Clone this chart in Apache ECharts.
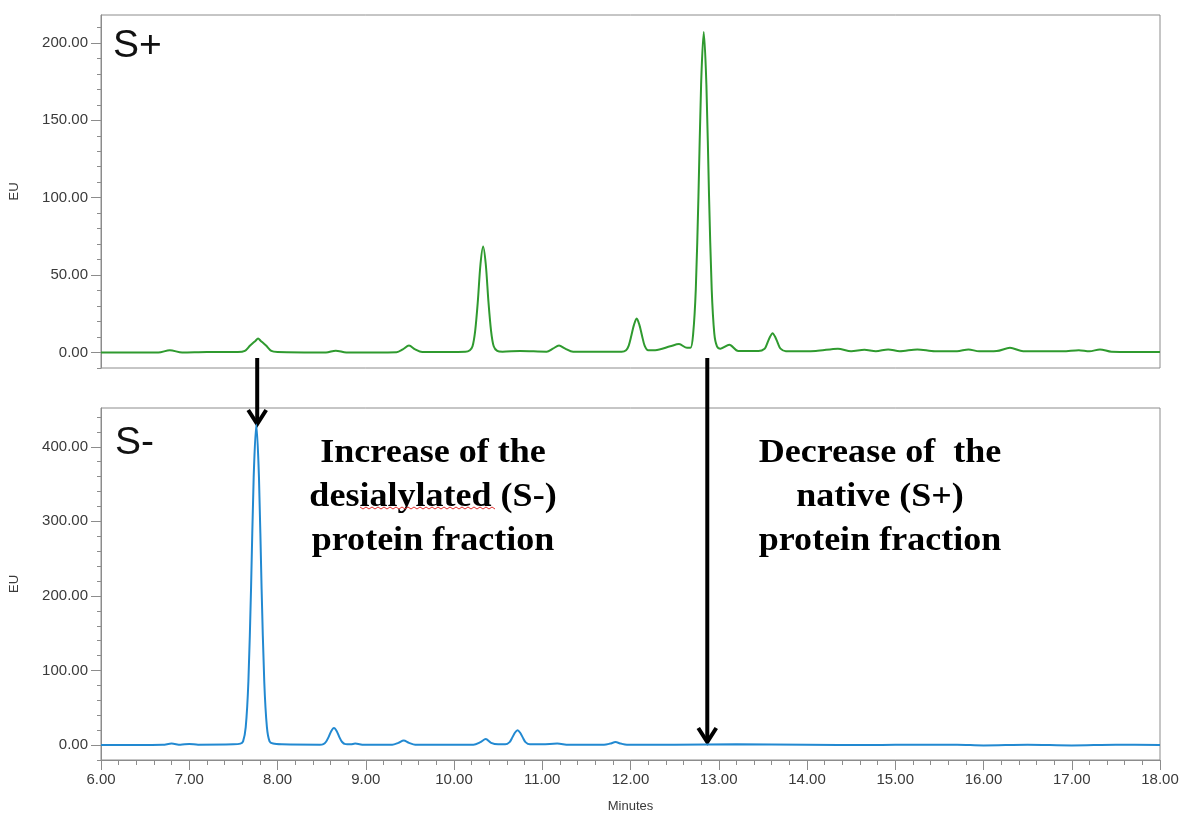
<!DOCTYPE html>
<html>
<head>
<meta charset="utf-8">
<script src="https://cdn.jsdelivr.net/npm/echarts@6/dist/echarts.min.js"></script>
<style>
html,body{margin:0;padding:0;background:#fff;}
#chart{width:1184px;height:816px;}
</style>
</head>
<body>
<div id="chart"></div>
<script>
// S+ trace (native), minutes / EU
var plusTime = [6.00,6.65,6.78,6.92,7.20,7.55,7.63,7.69,7.75,7.78,7.81,7.87,7.93,8.00,8.55,8.66,8.78,
    9.35,9.42,9.49,9.56,9.64,
    10.13,10.18,10.21,10.24,10.27,10.30,10.33,10.36,10.39,10.42,10.45,10.49,10.55,10.75,
    11.05,11.12,11.19,11.26,11.35,
    11.90,11.95,11.98,12.01,12.04,12.07,12.10,12.13,12.16,12.20,12.28,12.45,12.55,12.64,
    12.68,12.71,12.74,12.77,12.80,12.83,12.86,12.89,12.92,12.95,12.98,13.02,13.12,13.22,
    13.45,13.52,13.55,13.58,13.61,13.64,13.67,13.70,13.76,
    14.10,14.35,14.50,14.65,14.78,14.92,15.05,15.25,15.45,15.70,15.83,15.95,16.15,16.30,16.45,
    16.90,17.08,17.20,17.32,17.45,18.00];
var plusEU = [0,0,1.5,0,0.3,0.3,1,4.5,7.5,9,7.5,4.5,1,0.3,0,1.2,0,
    0.2,2,4.5,2,0.3,
    0.5,1.5,4,14,33,57,68.5,57,33,14,4,1,0.5,1,
    0.5,2.5,4.5,2.5,0.5,
    0.5,1.5,4.5,11,18,22,18,11,4.5,1.5,1.5,4,5.5,3,
    3,12,41,101,173,207,173,101,41,12,4,2.5,5,1,
    1,2.5,6,10,12.5,10,6,2.5,0.8,
    1,2.5,0.8,1.8,0.8,2,0.8,2,0.8,0.8,2,0.8,1,3,0.8,
    0.8,1.5,0.8,2,0.5,0.3];

// S- trace (desialylated)
var minusTime = [6.00,6.70,6.80,6.90,7.00,7.10,7.50,7.58,7.61,7.64,7.67,7.70,7.73,7.76,7.79,7.82,7.85,7.88,7.91,7.95,8.05,
    8.48,8.52,8.55,8.58,8.61,8.64,8.67,8.70,8.73,8.77,8.83,8.88,8.98,
    9.30,9.37,9.43,9.49,9.56,
    10.22,10.30,10.36,10.42,10.50,10.58,10.63,10.66,10.69,10.72,10.75,10.78,10.81,10.86,11.00,
    11.17,11.30,11.70,11.77,11.83,11.89,11.96,
    12.50,13.20,14.00,14.70,15.00,15.70,16.00,16.50,17.00,17.50,18.00];
var minusEU = [0,0.5,2,0.5,1.5,0.5,1,2,5,24,85,209,359,430,359,209,85,24,5,2,1,
    0.5,1.3,4.5,11,19,23,19,11,4.5,1.3,1,2,0.5,
    0.5,3,6,3,0.5,
    0.5,4,8,3,1,1,4,10,16.5,20,16.5,10,4,1,1,
    2,0.5,0.5,2,4,2,0.5,
    0.5,1,0.5,0,0.5,0.5,-0.5,0.5,-0.5,0.5,0];

var plusLabels = [0,50,100,150,200];
var plusTicks = [-10,0,10,20,30,40,50,60,70,80,90,100,110,120,130,140,150,160,170,180,190,200,210];
var minusLabels = [0,100,200,300,400];
var minusTicks = [-20,0,20,40,60,80,100,120,140,160,180,200,220,240,260,280,300,320,340,360,380,400,420,440];

function pairs(xs, ys){
    var out = [];
    for(var i=0;i<xs.length;i++){ out.push([xs[i], ys[i]]); }
    return out;
}

var axisGray = '#8c8c8c';
var labelFont = {color:'#3a3a3a', fontSize:15, fontFamily:'Liberation Sans, Arial, sans-serif'};

var chart = echarts.init(document.getElementById('chart'));

function yMain(grid, min, max, labels, name){
    return {
        type:'value', gridIndex:grid, min:min, max:max, position:'left',
        axisLine:{show:true, onZero:false, lineStyle:{color:axisGray}},
        axisTick:{show:true, customValues:labels, length:10, lineStyle:{color:axisGray}},
        axisLabel:Object.assign({customValues:labels, margin:13, formatter:function(v){return v.toFixed(2);}}, labelFont),
        splitLine:{show:false},
        name:name, nameLocation:'middle', nameGap:80, nameRotate:90,
        nameTextStyle:{color:'#3a3a3a', fontSize:13, fontFamily:'Liberation Sans, Arial, sans-serif'}
    };
}
function yMinor(grid, min, max, ticks){
    return {
        type:'value', gridIndex:grid, min:min, max:max, position:'left',
        axisLine:{show:false, onZero:false},
        axisTick:{show:true, customValues:ticks, length:4, lineStyle:{color:axisGray}},
        axisLabel:{show:false}, splitLine:{show:false}
    };
}

var option = {
    animation:false,
    backgroundColor:'#fff',
    grid:[
        {left:101, top:15, right:24, height:353, show:true, borderColor:axisGray, borderWidth:1},
        {left:101, top:408, right:24, height:352, show:true, borderColor:axisGray, borderWidth:1}
    ],
    xAxis:[
        {type:'value', gridIndex:0, min:6, max:18, axisLine:{show:false, onZero:false}, axisTick:{show:false},
         axisLabel:{show:false}, splitLine:{show:false}},
        {type:'value', gridIndex:1, min:6, max:18, interval:1,
         axisLine:{show:true, onZero:false, lineStyle:{color:axisGray}},
         axisTick:{show:true, length:10, lineStyle:{color:axisGray}},
         minorTick:{show:true, splitNumber:5, length:5, lineStyle:{color:axisGray}},
         axisLabel:Object.assign({margin:12, formatter:function(v){return v.toFixed(2);}}, labelFont),
         splitLine:{show:false},
         name:'Minutes', nameLocation:'middle', nameGap:40,
         nameTextStyle:{color:'#3a3a3a', fontSize:13, fontFamily:'Liberation Sans, Arial, sans-serif'}}
    ],
    yAxis:[
        yMain(0, -10, 218, plusLabels, 'EU'),
        yMinor(0, -10, 218, plusTicks),
        yMain(1, -20, 452, minusLabels, 'EU'),
        yMinor(1, -20, 452, minusTicks)
    ],
    series:[
        {type:'line', xAxisIndex:0, yAxisIndex:0, data:pairs(plusTime, plusEU), showSymbol:false,
         smooth:0.3, lineStyle:{color:'#2f9a2f', width:2}},
        {type:'line', xAxisIndex:1, yAxisIndex:2, data:pairs(minusTime, minusEU), showSymbol:false,
         smooth:0.3, lineStyle:{color:'#2289d1', width:2}}
    ]
};
chart.setOption(option);

// annotations: arrows placed from the time axis
function arrow(x, y1, y2){
    return {
        type:'group', children:[
            {type:'line', shape:{x1:x, y1:y1, x2:x, y2:y2-2}, style:{stroke:'#000', lineWidth:4}},
            {type:'polyline', shape:{points:[[x-9,y2-14],[x,y2],[x+9,y2-14]]}, style:{stroke:'#000', lineWidth:4, fill:null}}
        ]
    };
}
var ax1 = chart.convertToPixel({xAxisIndex:1}, 7.77);
var ax2 = chart.convertToPixel({xAxisIndex:1}, 12.87);
var serif = 'bold 34px "Liberation Serif", "Times New Roman", serif';
var squiggle = [];
for(var sx=360; sx<=495; sx+=3){ squiggle.push([sx, 507 + ((sx-360)/3 % 2 ? 2 : 0)]); }

chart.setOption({
    graphic:[
        {type:'text', left:113, top:27, style:{text:'S+', font:'39px "Liberation Sans", Arial, sans-serif', fill:'#111'}},
        {type:'text', left:115, top:424, style:{text:'S-', font:'39px "Liberation Sans", Arial, sans-serif', fill:'#111'}},
        {type:'text', x:433, y:431, scaleX:1.06, style:{text:'Increase of the\ndesialylated (S-)\nprotein fraction', font:serif,
            fill:'#000', align:'center', lineHeight:44}},
        {type:'text', x:880, y:431, scaleX:1.06, style:{text:'Decrease of  the\nnative (S+)\nprotein fraction', font:serif,
            fill:'#000', align:'center', lineHeight:44}},
        {type:'polyline', shape:{points:squiggle}, style:{stroke:'#e03030', lineWidth:1, fill:null}},
        arrow(ax1, 358, 424),
        arrow(ax2, 358, 742)
    ]
});
</script>
</body>
</html>
